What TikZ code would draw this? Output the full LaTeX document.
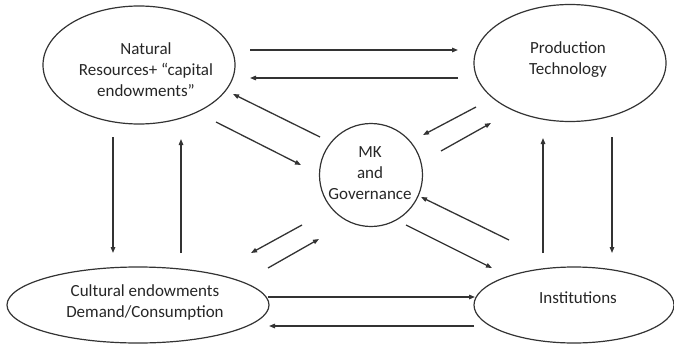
\documentclass[tikz,border=0pt]{standalone}
\usepackage{fontspec}
\setmainfont{Carlito}
\usetikzlibrary{arrows.meta,shapes.geometric}
\begin{document}
\begin{tikzpicture}[x=1pt,y=-1pt,
  bubble/.style={draw=black!80,line width=1.2pt,ellipse,inner sep=0pt},
  lbl/.style={align=center,font=\fontsize{17}{21}\selectfont,text=black!85,inner sep=0pt},
  arr/.style={draw=black!80,line width=1.3pt,-{Triangle[length=6pt,width=4.5pt]}}]
\useasboundingbox (0,0) rectangle (674,345);
% shapes
\node[bubble,minimum width=192pt,minimum height=118pt] (nr) at (139,65) {};
\node[bubble,minimum width=192pt,minimum height=117pt] (pt) at (570,63) {};
\node[bubble,circle,minimum size=103pt] (mk) at (371,175) {};
\node[bubble,minimum width=262pt,minimum height=76pt] (ce) at (138,305) {};
\node[bubble,minimum width=200pt,minimum height=76pt] (in) at (574,305) {};
% labels
\node[lbl] (nrt) at (146,70) {Natural\\Resources+ “capital\\endowments”};
\node[lbl] (ptt) at (568,60) {Production\\Technology};
\node[lbl] (mkt) at (370,173) {MK\\and\\Governance};
\node[lbl] (cet) at (145,302) {Cultural endowments\\Demand/Consumption};
\node[lbl] (int) at (578,298) {Institutions};
% arrow end points
\coordinate (a1) at (250,50);  \coordinate (a2) at (458,50);
\coordinate (b1) at (458,78);  \coordinate (b2) at (250,78);
\coordinate (c1) at (320,137); \coordinate (c2) at (233,94);
\coordinate (d1) at (216,122); \coordinate (d2) at (301,165);
\coordinate (e1) at (476,107); \coordinate (e2) at (423,135);
\coordinate (f1) at (441,151); \coordinate (f2) at (491,123);
\coordinate (g1) at (113,137); \coordinate (g2) at (113,253);
\coordinate (h1) at (181,253); \coordinate (h2) at (181,139);
\coordinate (i1) at (543,253); \coordinate (i2) at (543,138);
\coordinate (j1) at (612,137); \coordinate (j2) at (612,253);
\coordinate (k1) at (302,225); \coordinate (k2) at (251,253);
\coordinate (l1) at (268,268); \coordinate (l2) at (319,239);
\coordinate (m1) at (509,240); \coordinate (m2) at (421,197);
\coordinate (n1) at (406,225); \coordinate (n2) at (492,268);
\coordinate (o1) at (268,297); \coordinate (o2) at (475,297);
\coordinate (p1) at (474,326); \coordinate (p2) at (269,326);
% connectors
\draw[arr] (a1) -- (a2);
\draw[arr] (b1) -- (b2);
\draw[arr] (c1) -- (c2);
\draw[arr] (d1) -- (d2);
\draw[arr] (e1) -- (e2);
\draw[arr] (f1) -- (f2);
\draw[arr] (g1) -- (g2);
\draw[arr] (h1) -- (h2);
\draw[arr] (i1) -- (i2);
\draw[arr] (j1) -- (j2);
\draw[arr] (k1) -- (k2);
\draw[arr] (l1) -- (l2);
\draw[arr] (m1) -- (m2);
\draw[arr] (n1) -- (n2);
\draw[arr] (o1) -- (o2);
\draw[arr] (p1) -- (p2);
\end{tikzpicture}
\end{document}
